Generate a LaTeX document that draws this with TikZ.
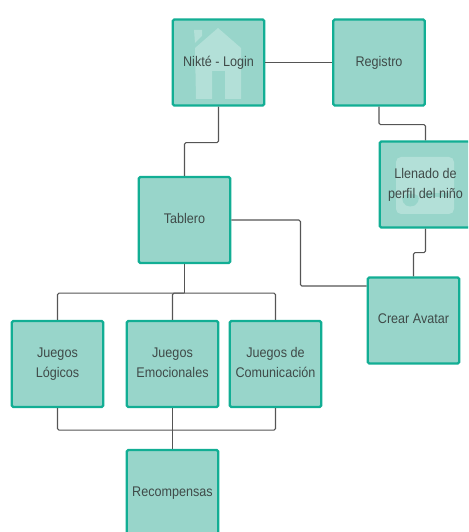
\documentclass[tikz,border=0pt]{standalone}
\usepackage{fontspec}
\usetikzlibrary{positioning}
\setmainfont[FakeStretch=0.9]{Liberation Sans}
\definecolor{boxfill}{HTML}{98D5CA}
\definecolor{boxline}{HTML}{12AE94}
\definecolor{wireline}{HTML}{555555}
\definecolor{boxtext}{HTML}{3F4A48}
\definecolor{iconfill}{HTML}{B3E0D8}
\tikzset{
    pantalla/.style={draw=boxline, fill=boxfill, line width=2.4pt, rounded corners=1.5pt,
        minimum width=91.5pt, minimum height=86pt, align=center, text=boxtext,
        font=\fontsize{14}{20}\selectfont,
        execute at begin node=\rule{0pt}{10pt},
        execute at end node=\rule[-3pt]{0pt}{3pt}},
    rotulo/.style={pantalla, draw=none, fill=none},
    enlace/.style={draw=wireline, line width=1.1pt, rounded corners=1.5pt},
}

\begin{document}
\begin{tikzpicture}[x=1pt, y=1pt]
    \clip (0,0) rectangle (468,532);
    %
    \node[pantalla] (login)    at (218.5,469.5) {};
    \node[pantalla] (registro) at (379,469.5)   {Registro};
    \node[pantalla] (perfil)   at (425.5,347.5) {};
    \node[pantalla] (tablero)  at (184.5,312)   {Tablero};
    \node[pantalla] (avatar)   at (413.5,211.5) {Crear Avatar};
    \node[pantalla] (logicos)  at (57.5,168)    {Juegos\\Lógicos};
    \node[pantalla] (emocion)  at (172.5,168)   {Juegos\\Emocionales};
    \node[pantalla] (comunica) at (275.5,168)   {Juegos de\\Comunicación};
    \node[pantalla] (premios)  at (172.5,39)    {Recompensas};
    %
    % iconos
    \fill[iconfill] (195,484) -- (218,504) -- (241,484) -- (241,433) -- (225,433) -- (225,461) -- (212,461) -- (212,433) -- (196,433) -- cycle;
    \fill[iconfill] (194,502) -- (202,502) -- (202,496) -- (195,489) -- cycle;
    \fill[iconfill, rounded corners=5pt] (396,375) rectangle (454,318);
    \fill[boxfill, rounded corners=5pt] (402,338) -- (419,338) -- (419,329) -- (410,324) -- (402,329) -- cycle;
    \fill[boxfill] (425,339) rectangle (449,335);
    %
    \node[rotulo] (tlogin)  at (login)  {Nikté - Login};
    \node[rotulo] (tperfil) at (perfil) {Llenado de\\perfil del niño};
    %
    \coordinate[below=29pt of tablero.south] (reparto);
    %
    \draw[enlace] (login.east) -- (registro.west);
    \draw[enlace] (login.south) -- ++(down:36pt) -| (tablero.north);
    \draw[enlace] (registro.south) -- ++(down:18pt) -| (perfil.north);
    \draw[enlace] (perfil.south) -- ++(down:24pt) -| (avatar.north);
    \draw[enlace] (tablero.east) -- ++(right:69pt) |- ([yshift=34.5pt]avatar.west);
    \draw[enlace] (tablero.south) -- (reparto);
    \draw[enlace] (reparto) -| (logicos.north);
    \draw[enlace] (reparto) -| (emocion.north);
    \draw[enlace] (reparto) -| (comunica.north);
    \draw[enlace] (logicos.south) -- ++(down:22pt) -| (comunica.south);
    \draw[enlace] (emocion.south) -- (premios.north);
\end{tikzpicture}
\end{document}
